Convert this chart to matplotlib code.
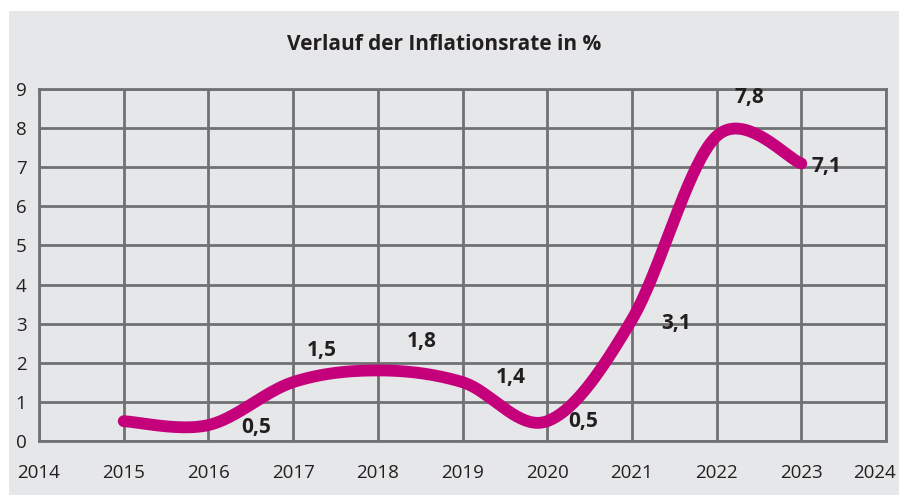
import matplotlib.pyplot as plt
import matplotlib.transforms as mtransforms
import numpy as np
from matplotlib.patches import Rectangle

years = [2015, 2016, 2017, 2018, 2019, 2020, 2021, 2022, 2023]
rates = [0.5, 0.4, 1.5, 1.8, 1.5, 0.5, 3.1, 7.8, 7.1]

labels = ["0,5", "1,5", "1,8", "1,4", "0,5", "3,1", "7,8", "7,1"]
label_x = [2016.57, 2017.34, 2018.52, 2019.57, 2020.42, 2021.52, 2022.39, 2023.30]
label_y = [0.33, 2.30, 2.53, 1.63, 0.48, 3.01, 8.78, 7.01]

grey = "#e6e7e8"
grid_col = "#707173"
text_col = "#231f20"
line_col = "#c4007a"

plt.rcParams['font.family'] = ['Open Sans', 'DejaVu Sans']


def smooth(x, y, n=40):
    # catmull-rom style bezier, like a spreadsheet "smoothed line"
    x = np.asarray(x, float)
    y = np.asarray(y, float)
    px = np.concatenate([[x[0]], x, [x[-1]]])
    py = np.concatenate([[y[0]], y, [y[-1]]])
    xs, ys = [], []
    t = np.linspace(0, 1, n)
    for i in range(1, len(px) - 2):
        p0 = np.array([px[i], py[i]])
        p3 = np.array([px[i + 1], py[i + 1]])
        c1 = p0 + (p3 - np.array([px[i - 1], py[i - 1]])) / 6
        c2 = p3 - (np.array([px[i + 2], py[i + 2]]) - p0) / 6
        pts = ((1 - t) ** 3)[:, None] * p0 + (3 * (1 - t) ** 2 * t)[:, None] * c1 \
            + (3 * (1 - t) * t ** 2)[:, None] * c2 + (t ** 3)[:, None] * p3
        xs.extend(pts[:, 0])
        ys.extend(pts[:, 1])
    return xs, ys


fig = plt.figure(figsize=(8.99, 4.95), dpi=100)
fig.patch.set_facecolor("white")
fig.patches.append(Rectangle((9 / 899, 0), 1, 1 - 11 / 495, transform=fig.transFigure,
                             facecolor=grey, edgecolor="none", zorder=-1))

ax = fig.add_axes([39 / 899, (495 - 440.7) / 495, 847 / 899, (440.7 - 89.3) / 495])
ax.set_facecolor(grey)
ax.set_xlim(2014, 2024)
ax.set_ylim(0, 9)
ax.set_xticks(range(2014, 2025))
ax.set_yticks(range(0, 10))
ax.grid(True, color=grid_col, linewidth=2)
ax.set_axisbelow(True)
for s in ax.spines.values():
    s.set_color(grid_col)
    s.set_linewidth(2)
ax.tick_params(length=0, labelsize=13.5, colors=text_col)
ax.tick_params(axis="x", pad=17)
ax.tick_params(axis="y", pad=9)

# last year label sits a bit left so it fits in the picture
last = ax.get_xticklabels()[-1]
last.set_transform(last.get_transform() + mtransforms.ScaledTranslation(-0.11, 0, fig.dpi_scale_trans))

sx, sy = smooth(years, rates)
ax.plot(sx, sy, color=line_col, linewidth=8.5, solid_capstyle="round",
        solid_joinstyle="round", clip_on=False, zorder=3)

for lab, x, y in zip(labels, label_x, label_y):
    ax.text(x, y, lab, ha="center", va="center", fontsize=15, fontweight="bold",
            color=text_col, zorder=4)

fig.text(444 / 899, 1 - 44 / 495, "Verlauf der Inflationsrate in %", ha="center",
         va="center", fontsize=15, fontweight="bold", color=text_col)

fig.savefig("out.png", dpi=100)
